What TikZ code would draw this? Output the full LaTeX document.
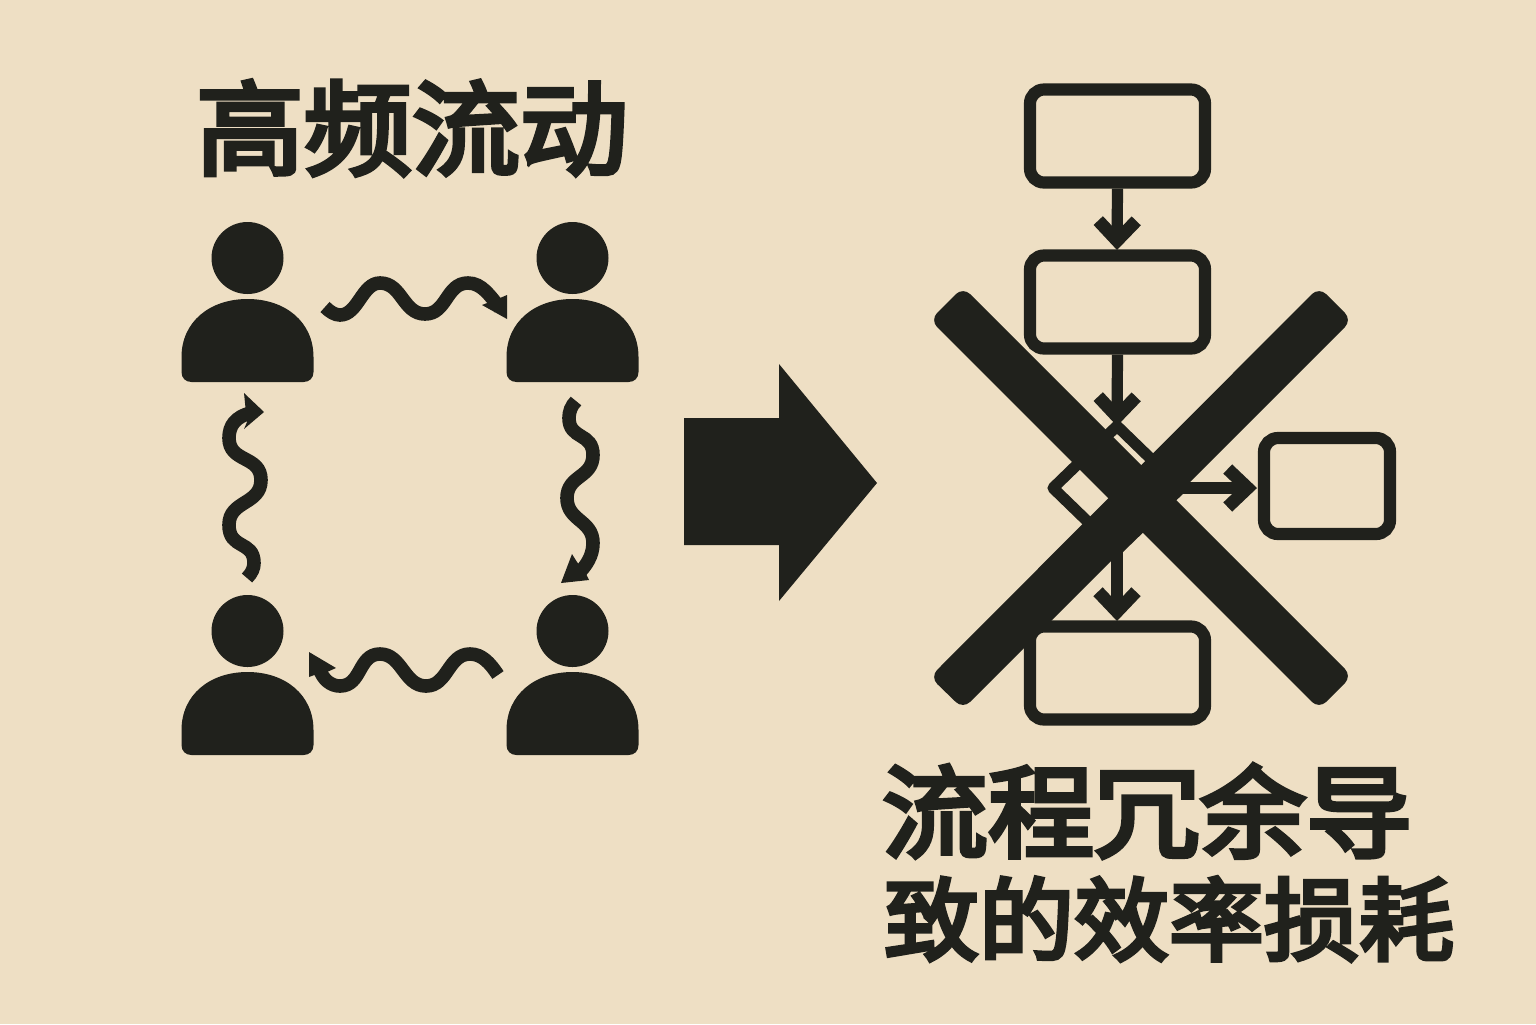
\documentclass[tikz,border=0pt]{standalone}
\usepackage{fontspec}
\newfontfamily\cjk[FakeBold=4.6]{Noto Sans CJK SC}
\usetikzlibrary{arrows.meta}
\definecolor{paper}{HTML}{EEDFC4}
\definecolor{ink}{HTML}{20211C}
\tikzset{
  px/.style={x=0.5pt,y=-0.5pt},
  boxnode/.style={draw=ink,line width=6.1pt,rounded corners=7pt,inner sep=0pt,minimum width=87.5pt,minimum height=46.5pt},
  flow/.style={draw=ink,line width=5.6pt,-{Straight Barb[length=10pt,width=19pt,line width=6.4pt]}},
  wave/.style={draw=ink,line width=6.8pt},
  head/.style={fill=ink,draw=none},
  band/.style={fill=ink,draw=none,rounded corners=5pt},
  ttl/.style={text=ink,inner sep=0pt,anchor=center}
}
\newcommand{\person}[2]{%
  \fill[ink] (#1,#2-124) circle (18pt);
  \fill[ink] (#1-56,#2) .. controls (#1-62,#2) and (#1-66,#2-4) .. (#1-66,#2-10) -- (#1-66,#2-25) .. controls (#1-66,#2-60) and (#1-38,#2-83) .. (#1,#2-83) .. controls (#1+38,#2-83) and (#1+66,#2-60) .. (#1+66,#2-25) -- (#1+66,#2-10) .. controls (#1+66,#2-4) and (#1+62,#2) .. (#1+56,#2) -- cycle;}
\begin{document}
\begin{tikzpicture}[px]
\useasboundingbox (0,0) rectangle (1536,1024);
\fill[paper] (0,0) rectangle (1536,1024);
\node[ttl,font=\cjk\fontsize{54pt}{54pt}\selectfont] (t1) at (412,128) {\scalebox{1}[0.95]{高频流动}};
\node[ttl,font=\cjk\fontsize{53pt}{53pt}\selectfont] (t2) at (1147,811) {\scalebox{1}[0.95]{流程冗余导}};
\node[ttl,font=\cjk\fontsize{47.5pt}{48pt}\selectfont] (t3) at (1169,919) {\scalebox{1}[0.95]{致的效率损耗}};
\person{247.5}{382}\person{572.5}{382}\person{247.5}{755}\person{572.5}{755}
% waves
\draw[wave] (325,307) .. controls (330,312) and (335,315) .. (340,315) .. controls (358,315) and (362,283) .. (380,283) .. controls (402,283) and (403,314) .. (425,314) .. controls (447,314) and (446,283) .. (468,283) .. controls (482,283) and (490,296) .. (500,308);
\fill[head] (507,295) -- (500,298) -- (482,305) -- (507,319) -- cycle;
\draw[wave] (247,578) .. controls (252,573) and (254,568) .. (254,563) .. controls (254,540) and (229,550) .. (229,525) .. controls (229,500) and (261,505) .. (261,480) .. controls (261,455) and (229,463) .. (229,438) .. controls (229,425) and (236,417) .. (250,413);
\fill[head] (244,393) -- (264,412) -- (244,429) -- (247,422) -- (245,403) -- cycle;
\draw[wave] (576,401) .. controls (571,406) and (569,412) .. (569,418) .. controls (569,440) and (593,432) .. (593,455) .. controls (593,478) and (567,475) .. (567,498) .. controls (567,521) and (593,520) .. (593,543) .. controls (593,556) and (586,566) .. (578,574);
\fill[head] (572,554) -- (561,583) -- (589,580) -- (585,572) -- (577,562) -- cycle;
\draw[wave] (498,675) .. controls (490,663) and (482,654) .. (470,654) .. controls (448,654) and (448,686) .. (426,686) .. controls (404,686) and (402,654) .. (380,654) .. controls (358,654) and (362,686) .. (340,686) .. controls (331,686) and (323,680) .. (319,668);
\fill[head] (309,652) -- (336,668) -- (327,672) -- (317,674) -- (309,677) -- cycle;
% big arrow
\fill[ink] (684,418) -- (779,418) -- (779,364) -- (877,483) -- (779,601) -- (779,545) -- (684,545) -- cycle;
% flow
\node[boxnode] (b1) at (1117.5,136) {};
\node[boxnode] (b2) at (1117.5,302) {};
\node[boxnode,minimum width=63pt,minimum height=48pt] (b3) at (1327,486) {};
\node[boxnode] (b4) at (1117.5,673) {};
\coordinate (dt) at (1117,426);
\coordinate (dl) at (1053,488);
\coordinate (db) at (1117,550);
\coordinate (dr) at (1181,488);
\draw[ink,line width=5.6pt,line join=round] (dt) -- (dl) -- (db) -- (dr) -- cycle;
\draw[flow] (b1.south) -- (1117,250);
\draw[flow] (b2.south) -- (dt);
\draw[flow] (dr) -- (1257,488);
\draw[flow] (db) -- (1117,621);
% X
\fill[band] (963,287) -- (1352,676) -- (1319,709) -- (930,320) -- cycle;
\fill[band] (1319,287) -- (1352,320) -- (963,709) -- (930,677) -- cycle;
\end{tikzpicture}
\end{document}
